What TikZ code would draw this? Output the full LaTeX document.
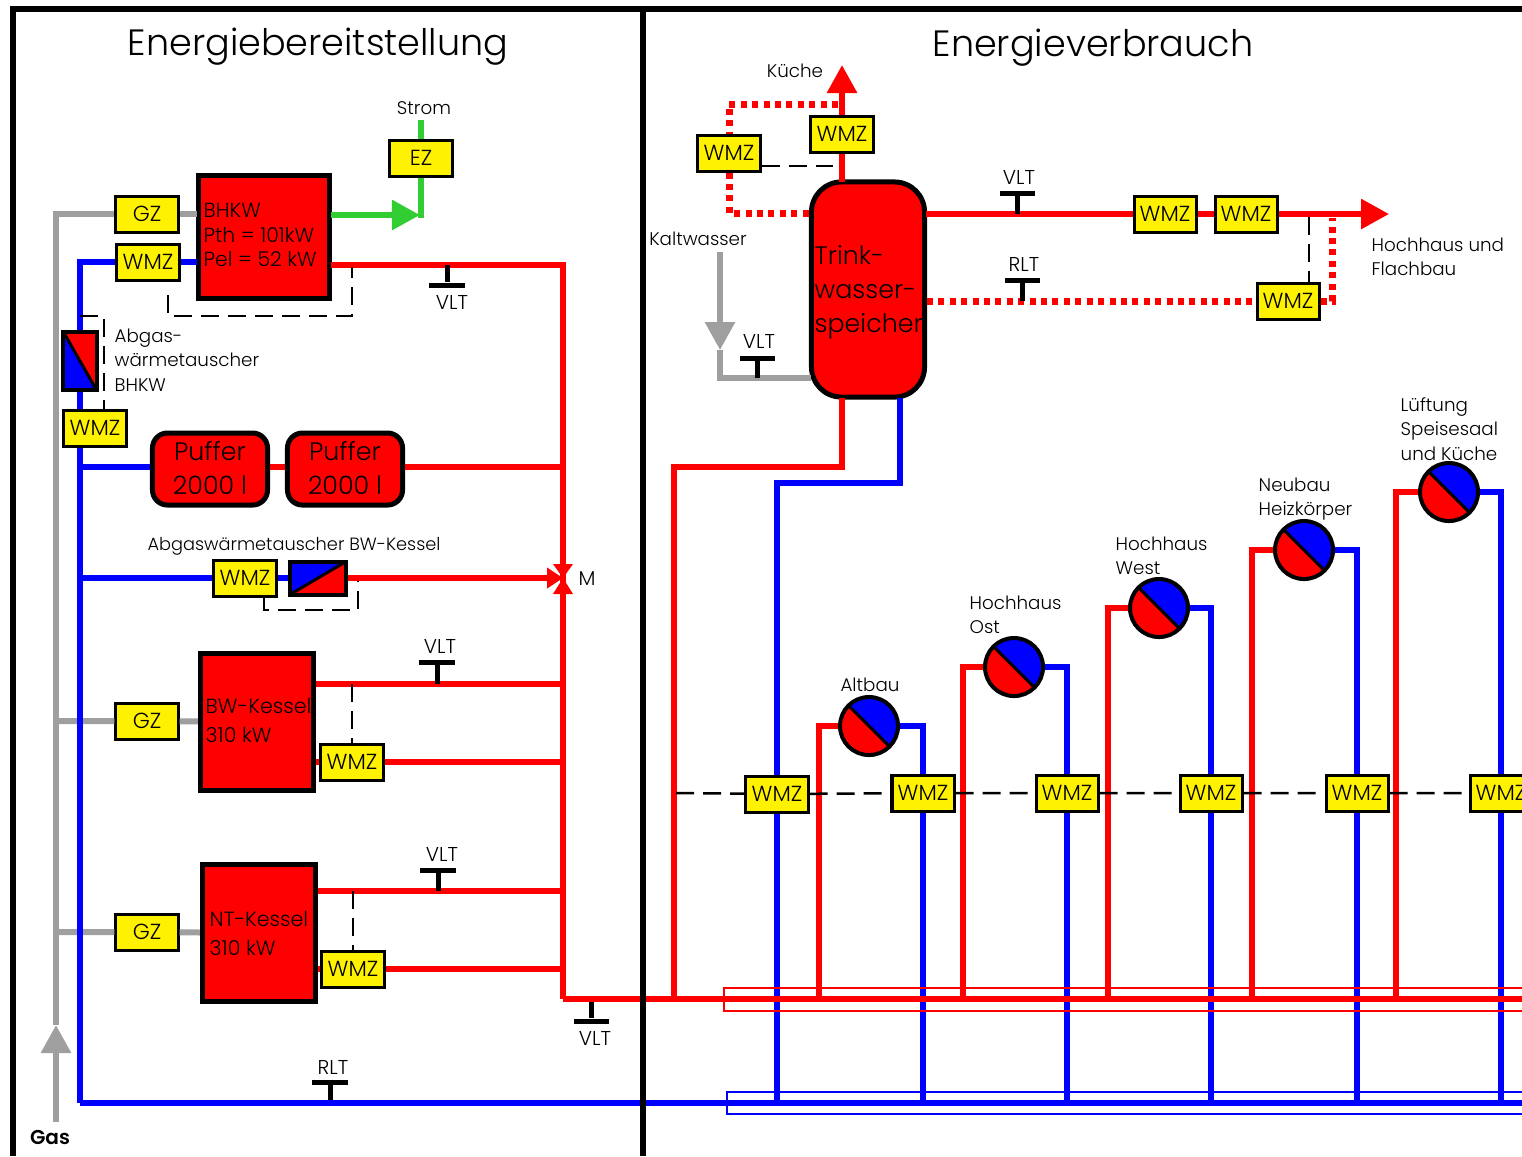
\documentclass[tikz,border=0pt]{standalone}
\usepackage{fontspec}
\setmainfont{Poppins Light}
\usetikzlibrary{arrows.meta, calc}
\definecolor{stromgreen}{RGB}{50,205,50}
\newcommand{\fsmall}{\fontsize{5.2}{6.95}\selectfont}
\newcommand{\ftemp}{\fontsize{5.7}{6.95}\selectfont}
\newcommand{\fwmz}{\fontsize{6.2}{7}\selectfont}
\newcommand{\fkessel}{\fontsize{5.85}{8.2}\selectfont}
\newcommand{\fbig}{\fontsize{7.2}{9.66}\selectfont}
\newcommand{\ftitle}{\fontsize{10.4}{12}\selectfont}
\tikzset{
  pipered/.style={red,line width=0.06cm},
  pipeblue/.style={blue,line width=0.06cm},
  pipegray/.style={gray!75,line width=0.06cm},
  pipegreen/.style={stromgreen,line width=0.06cm},
  pipedot/.style={red,line width=0.07cm,dash pattern=on 0.06cm off 0.054cm},
  messline/.style={black,line width=0.025cm,dash pattern=on 0.18cm off 0.09cm},
  rahmen/.style={black,line width=0.06cm},
  bigtip/.style={-{Triangle[width=0.29cm,length=0.28cm]}},
  wmz/.style={draw=black,line width=0.03cm,fill=yellow,minimum width=0.62cm,minimum height=0.36cm,inner sep=0pt,font=\fwmz},
  kessel/.style={draw=black,line width=0.05cm,fill=red,inner sep=0pt,align=left},
  puffer/.style={draw=black,line width=0.05cm,fill=red,rounded corners=0.15cm,minimum width=1.15cm,minimum height=0.72cm,inner sep=0pt,align=center,font=\fbig},
  tbar/.style={fill=black,minimum width=0.35cm,minimum height=0.05cm,inner sep=0pt},
  stem/.style={black,line width=0.05cm},
  lbl/.style={font=\fsmall,inner sep=0pt,align=left},
  tlbl/.style={font=\ftemp,inner sep=0pt},
  pumpe/.style={circle,draw=black,line width=0.04cm,fill=red,minimum size=0.58cm,inner sep=0pt,
    path picture={\fill[blue] (path picture bounding box.north west) -- (path picture bounding box.north east) -- (path picture bounding box.south east) -- cycle;
    \draw[black,line width=0.03cm] (path picture bounding box.north west) -- (path picture bounding box.south east);}},
  hxa/.style={draw=black,line width=0.04cm,fill=blue,inner sep=0pt,
    path picture={\fill[red] (path picture bounding box.north west) -- (path picture bounding box.north east) -- (path picture bounding box.south east) -- cycle;
    \draw[black,line width=0.03cm] (path picture bounding box.north west) -- (path picture bounding box.south east);}},
  hxb/.style={draw=black,line width=0.04cm,fill=red,inner sep=0pt,
    path picture={\fill[blue] (path picture bounding box.north west) -- (path picture bounding box.north east) -- (path picture bounding box.south west) -- cycle;
    \draw[black,line width=0.03cm] (path picture bounding box.south west) -- (path picture bounding box.north east);}}
}
\begin{document}
\begin{tikzpicture}[x=0.01cm,y=-0.01cm]
\useasboundingbox (0,0) rectangle (1522,1156);
\clip (0,0) rectangle (1522,1156);

% Headings
\node[font=\ftitle,inner sep=0pt] (titelL) at (318,47) {Energiebereitstellung};
\node[font=\ftitle,inner sep=0pt] (titelR) at (1093,48) {Energieverbrauch};

% Supply side
\node[kessel,minimum width=1.31cm,minimum height=1.23cm] (bhkw) at (264,237) {};
\node[lbl,anchor=west,font=\fontsize{5.8}{6.95}\selectfont] (bhkwText) at (203,235) {BHKW\\Pth = 101kW\\Pel = 52 kW};
\node[kessel,minimum width=1.13cm,minimum height=1.36cm] (bwk) at (257,722) {};
\node[lbl,anchor=west,font=\fkessel] (bwkText) at (205,720) {BW-Kessel\\310 kW};
\node[kessel,minimum width=1.13cm,minimum height=1.36cm] (ntk) at (259,933) {};
\node[lbl,anchor=west,font=\fkessel] (ntkText) at (209,933) {NT-Kessel\\310 kW};
\node[puffer] (pufA) at (210,469) {\raisebox{0.02cm}{Puffer}\\\raisebox{0.02cm}{2000 l}};
\node[puffer] (pufB) at (345,469) {\raisebox{0.02cm}{Puffer}\\\raisebox{0.02cm}{2000 l}};
\node[wmz] (gzA) at (147,214) {GZ};
\node[wmz] (gzB) at (147,721) {GZ};
\node[wmz] (gzC) at (147,932) {GZ};
\node[wmz] (wmzBhkw) at (148,262) {WMZ};
\node[wmz] (wmzAbg) at (95,428) {WMZ};
\node[wmz] (wmzBwa) at (245,578) {WMZ};
\node[wmz] (wmzBw) at (352,762) {WMZ};
\node[wmz] (wmzNt) at (353,969) {WMZ};
\node[wmz] (ez) at (421,158) {EZ};
\node[hxa,minimum width=0.33cm,minimum height=0.58cm] (hxA) at (80,361) {};
\node[hxb,minimum width=0.56cm,minimum height=0.33cm] (hxB) at (318,578) {};

% Corners and ends of the supply pipes
\coordinate (gasStart) at (56,1122);
\coordinate (gasTip) at (56,1025);
\coordinate (gasTop) at (56,214);
\coordinate (gasB) at (56,721);
\coordinate (gasC) at (56,932);
\coordinate (blueTop) at (80,262);
\coordinate (blueBot) at (80,1103);
\coordinate (bluePuf) at (80,467);
\coordinate (blueBw) at (80,578);
\coordinate (bhkwGas) at (197,214);
\coordinate (bhkwBlue) at (197,262);
\coordinate (bhkwRed) at (331,265);
\coordinate (bhkwGreen) at (331,215);
\coordinate (greenTip) at (420,215);
\coordinate (greenEnd) at (421,218);
\coordinate (stromEnd) at (421,120);
\coordinate (mainTop) at (563,265);
\coordinate (mainBot) at (563,999);
\coordinate (mainEnd) at (1522,999);
\coordinate (blueEnd) at (1522,1103);
\coordinate (valve) at (563,578);
\coordinate (pufRed) at (563,467);
\coordinate (bwTop) at (316,684);
\coordinate (bwTopR) at (563,684);
\coordinate (bwLow) at (563,762);
\coordinate (bwKes) at (316,762);
\coordinate (ntTop) at (318,891);
\coordinate (ntTopR) at (563,891);
\coordinate (ntLow) at (563,969);
\coordinate (ntKes) at (318,969);

% Supply pipes
\draw[pipegray,bigtip] (gasStart) -- (gasTip);
\draw[pipegray] (gasTip) -- (gasTop) -- (gzA) -- (bhkwGas);
\draw[pipegray] (gasB) -- (gzB) -- (bwk);
\draw[pipegray] (gasC) -- (gzC) -- (ntk);
\draw[pipegreen] (stromEnd) -- (ez) -- (greenEnd);
\draw[pipegreen,bigtip] (bhkwGreen) -- (greenTip);
\draw[pipeblue] (bhkwBlue) -- (wmzBhkw) -- (blueTop) -- (hxA);
\draw[pipeblue] (hxA) -- (hxA |- wmzAbg.north);
\draw[pipeblue] (hxA |- wmzAbg.south) -- (blueBot);
\draw[pipeblue] (bluePuf) -- (bluePuf -| pufA.west);
\draw[pipeblue] (blueBw) -- (wmzBwa) -- (hxB);
\draw[pipered] (bhkwRed) -- (mainTop) -- (mainBot);
\draw[pipered] (pufRed -| pufA.east) -- (pufRed -| pufB.west);
\draw[pipered] (pufRed -| pufB.east) -- (pufRed);
\draw[pipered,-{Triangle[width=0.2cm,length=0.16cm]}] (hxB) -- (valve);
\fill[red] (valve) -- ++(-10,-14) -- ++(20,0) -- cycle;
\fill[red] (valve) -- ++(-10,16) -- ++(20,0) -- cycle;
\draw[pipered] (bwTop) -- (bwTopR);
\draw[pipered] (bwKes) -- (wmzBw) -- (bwLow);
\draw[pipered] (ntTop) -- (ntTopR);
\draw[pipered] (ntKes) -- (wmzNt) -- (ntLow);

% Dashed signal lines
\coordinate (dashA) at (168,295);
\coordinate (dashB) at (168,316);
\coordinate (dashC) at (352,316);
\coordinate (dashD) at (352,267);
\draw[messline] (dashA) -- (dashB) -- (dashC) -- (dashD);
\coordinate (dashE) at (80,316);
\coordinate (dashF) at (104,316);
\draw[messline] (dashE) -- (dashF) -- (dashF |- wmzAbg.north);
\coordinate (dashG) at (264,597);
\coordinate (dashH) at (264,610);
\coordinate (dashI) at (358,610);
\coordinate (dashJ) at (358,581);
\draw[messline] (dashG) -- (dashH) -- (dashI) -- (dashJ);
\coordinate (dashK) at (352,684);
\draw[messline] (dashK) -- (wmzBw);
\coordinate (dashL) at (353,891);
\draw[messline] (dashL) -- (wmzNt);

% Supply labels
\node[lbl] (strom) at (424,108) {Strom};
\node[lbl,anchor=west] (abgA) at (114,360) {Abgas-\\wärmetauscher\\BHKW};
\node[lbl,font=\fontsize{5.05}{6.95}\selectfont] (abgB) at (294,546) {Abgaswärmetauscher BW-Kessel};
\node[tlbl] (labM) at (587,579) {M};
\node[tlbl] (gas) at (50,1137) {\bfseries Gas};

% Temperature sensors, supply side
\node[tbar] (tA) at (447,285) {};
\coordinate (pA) at (447,265);
\draw[stem] (pA) -- (tA);
\node[tlbl] (vltA) at (452,302) {VLT};
\node[tbar] (tB) at (437,662) {};
\coordinate (pB) at (437,684);
\draw[stem] (pB) -- (tB);
\node[tlbl] (vltB) at (440,646) {VLT};
\node[tbar] (tC) at (438,870) {};
\coordinate (pC) at (438,891);
\draw[stem] (pC) -- (tC);
\node[tlbl] (vltC) at (442,854) {VLT};
\node[tbar] (tD) at (591,1021) {};
\coordinate (pD) at (591,999);
\draw[stem] (pD) -- (tD);
\node[tlbl] (vltD) at (595,1038) {VLT};
\node[tbar] (tE) at (330,1082) {};
\coordinate (pE) at (330,1103);
\draw[stem] (pE) -- (tE);
\node[tlbl] (rltE) at (333,1067) {RLT};

% Drinking water storage
\node[kessel,rounded corners=0.3cm,minimum width=1.13cm,minimum height=2.15cm] (tank) at (868,289.5) {};
\node[lbl,anchor=west,font=\fbig] (tankText) at (814,292) {Trink-\\wasser-\\speicher};
\node[wmz] (wmzKue) at (842,134) {WMZ};
\node[wmz] (wmzZir) at (729,153) {WMZ};
\node[wmz] (wmzHaA) at (1165,214) {WMZ};
\node[wmz] (wmzHaB) at (1246,214) {WMZ};
\node[wmz] (wmzHaR) at (1288,301) {WMZ};

\coordinate (tankTop) at (842,182);
\coordinate (kueTip) at (842,65);
\draw[pipered,bigtip] (tankTop) -- (wmzKue) -- (kueTip);
\coordinate (zirA) at (838,104);
\coordinate (zirB) at (729,104);
\coordinate (zirC) at (729,213);
\coordinate (zirD) at (810,213);
\draw[pipedot] (zirA) -- (zirB) -- (wmzZir);
\draw[pipedot] (wmzZir) -- (zirC) -- (zirD);
\coordinate (zirE) at (833,166);
\draw[messline] (wmzZir.east |- zirE) -- (zirE);
\coordinate (kaltA) at (720,252);
\coordinate (kaltTip) at (720,350);
\coordinate (kaltB) at (720,378);
\coordinate (kaltC) at (811,378);
\draw[pipegray,bigtip] (kaltA) -- (kaltTip);
\draw[pipegray] (kaltTip) -- (kaltB) -- (kaltC);
\coordinate (tankVl) at (926,214);
\coordinate (haTip) at (1389,214);
\draw[pipered,bigtip] (tankVl) -- (wmzHaA) -- (wmzHaB) -- (haTip);
\coordinate (tankRl) at (927,301);
\coordinate (rlA) at (1332,301);
\coordinate (rlB) at (1332,218);
\draw[pipedot] (tankRl) -- (wmzHaR);
\draw[pipedot] (wmzHaR) -- (rlA) -- (rlB);
\coordinate (dashM) at (1309,217);
\draw[messline] (dashM) -- (dashM |- wmzHaR.north);

\node[tbar] (tF) at (757,358) {};
\coordinate (pF) at (757,378);
\draw[stem] (pF) -- (tF);
\node[tlbl] (vltF) at (759,341) {VLT};
\node[tbar] (tG) at (1017,193) {};
\coordinate (pG) at (1017,214);
\draw[stem] (pG) -- (tG);
\node[tlbl] (vltG) at (1019,177) {VLT};
\node[tbar] (tH) at (1022,280) {};
\coordinate (pH) at (1022,301);
\draw[stem] (pH) -- (tH);
\node[tlbl] (rltH) at (1024,264) {RLT};

\node[lbl] (kueche) at (795,71) {Küche};
\node[lbl] (kalt) at (698,239) {Kaltwasser};
\node[lbl,anchor=west] (haLbl) at (1371,257) {Hochhaus und\\Flachbau};

% Consumers
\node[wmz] (wmzHk) at (777,794) {WMZ};
\node[wmz] (wmzAlt) at (923,793) {WMZ};
\node[wmz] (wmzOst) at (1067,793) {WMZ};
\node[wmz] (wmzWest) at (1211,793) {WMZ};
\node[wmz] (wmzNeu) at (1357,793) {WMZ};
\node[wmz] (wmzLue) at (1501,793) {WMZ};
\node[pumpe] (pAlt) at (869,726) {};
\node[pumpe] (pOst) at (1014,667) {};
\node[pumpe] (pWest) at (1159,608) {};
\node[pumpe] (pNeu) at (1304,550) {};
\node[pumpe] (pLue) at (1449,492) {};

\coordinate (bTank) at (900,398);
\coordinate (bTankA) at (900,483);
\coordinate (bTankB) at (777,483);
\coordinate (bHk) at (777,1103);
\coordinate (bAlt) at (923,1103);
\coordinate (bOst) at (1067,1103);
\coordinate (bWest) at (1211,1103);
\coordinate (bNeu) at (1357,1103);
\coordinate (bLue) at (1501,1103);
\draw[pipeblue] (bTank) -- (bTankA) -- (bTankB) -- (wmzHk) -- (bHk);
\draw[pipeblue] (pAlt) -| (wmzAlt) -- (bAlt);
\draw[pipeblue] (pOst) -| (wmzOst) -- (bOst);
\draw[pipeblue] (pWest) -| (wmzWest) -- (bWest);
\draw[pipeblue] (pNeu) -| (wmzNeu) -- (bNeu);
\draw[pipeblue] (pLue) -| (wmzLue) -- (bLue);
\draw[pipeblue] (blueBot) -- (blueEnd);

\coordinate (rTank) at (842,398);
\coordinate (rTankA) at (842,467);
\coordinate (rTankB) at (674,467);
\coordinate (rTankC) at (674,999);
\coordinate (rAlt) at (819,999);
\coordinate (rOst) at (963,999);
\coordinate (rWest) at (1108,999);
\coordinate (rNeu) at (1252,999);
\coordinate (rLue) at (1396,999);
\draw[pipered] (rTank) -- (rTankA) -- (rTankB) -- (rTankC);
\draw[pipered] (rAlt) |- (pAlt);
\draw[pipered] (rOst) |- (pOst);
\draw[pipered] (rWest) |- (pWest);
\draw[pipered] (rNeu) |- (pNeu);
\draw[pipered] (rLue) |- (pLue);
\draw[pipered] (mainBot) -- (mainEnd);

\coordinate (rowStart) at (676,793);
\draw[messline] (rowStart) -- (wmzHk) -- (wmzAlt) -- (wmzOst) -- (wmzWest) -- (wmzNeu) -- (wmzLue);

% Thin frames round the main pipes
\draw[red,line width=0.02cm] (1530,988) -- (724,988) -- (724,1011) -- (1530,1011);
\draw[blue,line width=0.02cm] (1530,1092) -- (727,1092) -- (727,1114) -- (1530,1114);

\node[lbl] (lAlt) at (870,685) {Altbau};
\node[lbl,anchor=west] (lOst) at (969,615) {Hochhaus\\Ost};
\node[lbl,anchor=west] (lWest) at (1115,556) {Hochhaus\\West};
\node[lbl,anchor=west] (lNeu) at (1258,499) {Neubau\\Heizkörper};
\node[lbl,anchor=west] (lLue) at (1400,429) {Lüftung\\Speisesaal\\und Küche};

% Frame
\draw[rahmen] (13,1156) -- (13,9) -- (1522,9);
\draw[rahmen] (643,9) -- (643,1156);
\end{tikzpicture}
\end{document}
